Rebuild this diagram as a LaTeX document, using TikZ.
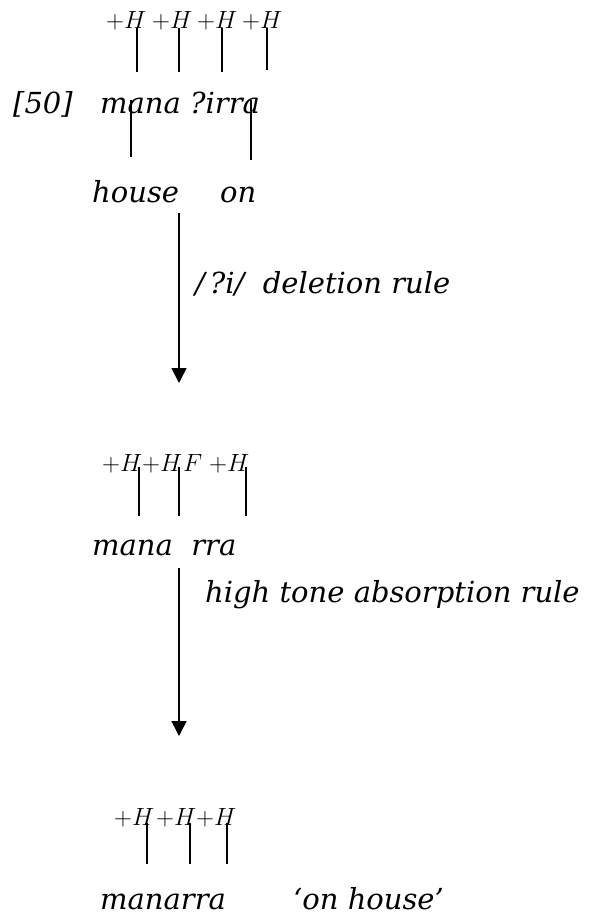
\documentclass[tikz,border=0pt]{standalone}
\usepackage{fontspec}
\setmainfont{DejaVu Serif}
\usetikzlibrary{arrows.meta}
\tikzset{
  word/.style={anchor=base west, inner sep=0pt, font=\fontsize{29}{34}\selectfont\itshape},
  tone/.style={anchor=base west, inner sep=0pt, font=\fontsize{25}{30}\selectfont},
  assoc/.style={line width=1.4pt},
  derive/.style={line width=1.6pt, -{Triangle[width=15pt,length=15pt]}}
}
\begin{document}
\begin{tikzpicture}[x=1pt,y=-1pt]
\useasboundingbox (0,0) rectangle (598,918);

% ---- underlying form
\node[tone] (t1) at (106,28) {$+H$};
\node[tone] (t2) at (152,28) {$+H$};
\node[tone] (t3) at (197,28) {$+H$};
\node[tone] (t4) at (242,28) {$+H$};
\node[word] (ex) at (13,113) {[50]};
\node[word] (w1) at (100,113) {mana ?irra};
\node[word] (g1) at (92,202) {house};
\node[word] (g2) at (220,202) {on};

\coordinate (a1) at (137,28); \coordinate (b1) at (137,72);
\coordinate (a2) at (179,28); \coordinate (b2) at (179,72);
\coordinate (a3) at (222,28); \coordinate (b3) at (222,72);
\coordinate (a4) at (267,28); \coordinate (b4) at (267,70);
\foreach \i in {1,...,4} \draw[assoc] (a\i) -- (b\i);

\coordinate (c1) at (131,100); \coordinate (d1) at (131,157);
\coordinate (c2) at (251,100); \coordinate (d2) at (251,160);
\draw[assoc] (c1) -- (d1);
\draw[assoc] (c2) -- (d2);

% ---- first rule
\coordinate (r1s) at (179,213); \coordinate (r1e) at (179,383);
\draw[derive] (r1s) -- (r1e);
\node[word] (l1) at (195,293) {/\,?i/\ \ deletion rule};

% ---- intermediate form
\node[tone] (u1) at (102,471) {$+H$};
\node[tone] (u2) at (142,471) {$+H$};
\node[tone] (u3) at (183,471) {$F$};
\node[tone] (u4) at (209,471) {$+H$};
\node[word] (w2) at (92,555) {mana\ \ rra};

\coordinate (e1) at (139,467); \coordinate (f1) at (139,516);
\coordinate (e2) at (179,467); \coordinate (f2) at (179,516);
\coordinate (e3) at (246,467); \coordinate (f3) at (246,516);
\foreach \i in {1,...,3} \draw[assoc] (e\i) -- (f\i);

% ---- second rule
\coordinate (r2s) at (179,568); \coordinate (r2e) at (179,736);
\draw[derive] (r2s) -- (r2e);
\node[word] (l2) at (205,602) {high tone absorption rule};

% ---- surface form
\node[tone] (v1) at (114,825) {$+H$};
\node[tone] (v2) at (156,825) {$+H$};
\node[tone] (v3) at (196,825) {$+H$};
\node[word] (w3) at (100,909) {manarra};
\node[word] (gl) at (293,909) {`on house'};

\coordinate (p1) at (147,823); \coordinate (q1) at (147,864);
\coordinate (p2) at (190,823); \coordinate (q2) at (190,864);
\coordinate (p3) at (227,823); \coordinate (q3) at (227,864);
\foreach \i in {1,...,3} \draw[assoc] (p\i) -- (q\i);
\end{tikzpicture}
\end{document}
